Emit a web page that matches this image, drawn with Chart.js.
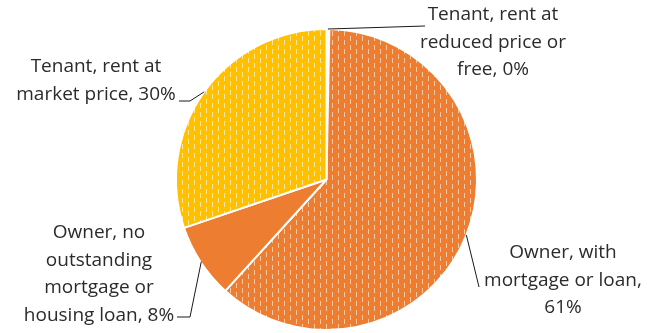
<!DOCTYPE html>
<html>
<head>
<meta charset="utf-8">
<script src="https://cdn.jsdelivr.net/npm/chart.js@4/dist/chart.umd.min.js"></script>
<style>
  html, body { margin: 0; padding: 0; background: #ffffff; }
  #wrap { width: 647px; height: 333px; position: relative; }
</style>
</head>
<body>
<div id="wrap"><canvas id="pie"></canvas></div>
<script>
// Housing tenure shares (%), clockwise from 12 o'clock
const categories = [
  'Tenant, rent at reduced price or free',
  'Owner, with mortgage or loan',
  'Owner, no outstanding mortgage or housing loan',
  'Tenant, rent at market price'
];
const shares = [0.3, 61, 8, 30];

// Label text as it is wrapped next to each slice; {p} is the rounded share
const labelLines = [
  ['Tenant, rent at', 'reduced price or', 'free, {p}'],
  ['Owner, with', 'mortgage or loan,', '{p}'],
  ['Owner, no', 'outstanding', 'mortgage or', 'housing loan, {p}'],
  ['Tenant, rent at', 'market price, {p}']
];

// Slice fills: base colour plus the colour of the short vertical dashes (null = solid)
const sliceBase = ['#F2F2F2', '#ED7D31', '#ED7D31', '#FFC000'];
const sliceDash = [null, '#F8C9A3', null, '#FFE69E'];

function dashPattern(base, dash) {
  const c = document.createElement('canvas');
  c.width = 12; c.height = 9;
  const g = c.getContext('2d');
  g.fillStyle = base;
  g.fillRect(0, 0, 12, 9);
  g.fillStyle = dash;
  g.fillRect(2, 0, 1, 5);
  g.fillRect(8, 4, 1, 5);
  return g.createPattern(c, 'repeat');
}

const ctx0 = document.getElementById('pie').getContext('2d');
const fills = sliceBase.map((b, i) => sliceDash[i] ? dashPattern(b, sliceDash[i]) : b);

// Label placement: text block centre and leader-line elbow, in canvas pixels
const labelLayout = [
  { cx: 493, top: 15, elbow: [425, 26], anchorR: 1.0 },
  { cx: 563, top: 253, elbow: [479, 287], anchorR: 1.0 },
  { cx: 99, top: 233, elbow: [190, 317], tail: [177, 317], anchorR: 0.995 },
  { cx: 96, top: 67, elbow: [190, 101], tail: [179, 101], anchorR: 1.0 }
];
const lineGap = 27.5;

const labelPlugin = {
  id: 'sliceLabels',
  afterDraw(chart) {
    const ctx = chart.ctx;
    const meta = chart.getDatasetMeta(0);
    ctx.save();
    ctx.font = '19px "Open Sans", sans-serif';
    ctx.fillStyle = '#2b2b2b';
    ctx.textAlign = 'center';
    ctx.textBaseline = 'middle';
    meta.data.forEach((arc, i) => {
      const p = arc.getProps(['x', 'y', 'startAngle', 'endAngle', 'outerRadius'], true);
      const mid = (p.startAngle + p.endAngle) / 2;
      const L = labelLayout[i];
      const r = p.outerRadius * L.anchorR;
      const ax = p.x + Math.cos(mid) * r;
      const ay = p.y + Math.sin(mid) * r;
      // leader line from the slice edge
      ctx.strokeStyle = '#1a1a1a';
      ctx.lineWidth = 1;
      ctx.beginPath();
      ctx.moveTo(ax, ay);
      ctx.lineTo(L.elbow[0], L.elbow[1]);
      if (L.tail) ctx.lineTo(L.tail[0], L.tail[1]);
      ctx.stroke();
      // label text
      const pct = Math.round(shares[i]) + '%';
      labelLines[i].forEach((t, k) => {
        ctx.fillText(t.replace('{p}', pct), L.cx, L.top + k * lineGap);
      });
    });
    ctx.restore();
  }
};

new Chart(ctx0, {
  type: 'pie',
  data: {
    labels: categories,
    datasets: [{
      data: shares,
      backgroundColor: fills,
      borderColor: '#ffffff',
      borderWidth: 2
    }]
  },
  options: {
    responsive: true,
    maintainAspectRatio: false,
    animation: false,
    events: [],
    layout: { padding: { top: 28, bottom: 2, left: 6, right: 0 } },
    plugins: {
      legend: { display: false },
      tooltip: { enabled: false }
    }
  },
  plugins: [labelPlugin]
});
</script>
</body>
</html>
